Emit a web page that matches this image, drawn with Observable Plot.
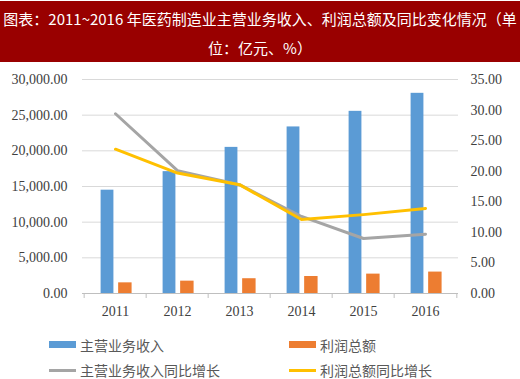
<!DOCTYPE html>
<html>
<head>
<meta charset="utf-8">
<script src="https://cdn.jsdelivr.net/npm/d3@7"></script>
<script src="https://cdn.jsdelivr.net/npm/@observablehq/plot@0.6"></script>
<style>
  html, body { margin: 0; padding: 0; background: #fff; }
  #wrap { position: relative; width: 520px; height: 379px; overflow: hidden; }
  #title { position: absolute; left: 0; top: 1px; width: 520px; height: 61px; background: #990000; color: #fff;
    font-family: "Noto Sans CJK SC", sans-serif; font-size: 15px; line-height: 29px; text-align: center; white-space: nowrap; padding-top: 3px; box-sizing: border-box; }
  #chart { position: absolute; left: 0; top: 62px; }
  #chart svg, #chart svg text { font-family: "Liberation Serif", "Times New Roman", serif; font-size: 14px; }
  .lg { position: absolute; font-family: "Noto Sans CJK SC", sans-serif; font-size: 14px; color: #595959; line-height: 18px; white-space: nowrap; }
  .sw { position: absolute; }
</style>
</head>
<body>
<div id="wrap">
  <div id="title">图表：2011~2016 年医药制造业主营业务收入、利润总额及同比变化情况（单<br>位：亿元、%）</div>
  <div id="chart"></div>
  <div class="sw" style="left:49px;top:341px;width:27px;height:7px;background:#5B9BD5"></div>
  <div class="lg" style="left:80px;top:336px">主营业务收入</div>
  <div class="sw" style="left:289px;top:341px;width:27px;height:7px;background:#ED7D31"></div>
  <div class="lg" style="left:320px;top:336px">利润总额</div>
  <div class="sw" style="left:49px;top:369px;width:27px;height:3px;background:#A5A5A5"></div>
  <div class="lg" style="left:80px;top:361px">主营业务收入同比增长</div>
  <div class="sw" style="left:289px;top:369px;width:27px;height:3px;background:#FFC000"></div>
  <div class="lg" style="left:320px;top:361px">利润总额同比增长</div>
</div>
<script>
const years = ["2011", "2012", "2013", "2014", "2015", "2016"];
const revenue = [14484, 17083, 20484, 23350, 25537, 28063];
const profit = [1494, 1731, 2072, 2382, 2717, 3003];
const revenueGrowth = [29.4, 20.1, 17.8, 12.6, 9.0, 9.7];
const profitGrowth = [23.6, 19.7, 17.8, 12.1, 12.9, 13.9];
const leftTicks = [0, 5000, 10000, 15000, 20000, 25000, 30000];
const rightTicks = [0, 5, 10, 15, 20, 25, 30, 35];

const leftMax = 30000, rightMax = 35;
const ratio = leftMax / rightMax;

const W = 520, H = 265, mL = 82, mR = 62, mT = 17, mB = 34;
const bw = (W - mL - mR) / years.length;

const table = years.map((y, i) => ({
  year: y, revenue: revenue[i], profit: profit[i],
  rg: revenueGrowth[i] * ratio, pg: profitGrowth[i] * ratio
}));

const chart = Plot.plot({
  width: W, height: H,
  marginLeft: mL, marginRight: mR, marginTop: mT, marginBottom: mB,
  style: "font-family: 'Liberation Serif', 'Times New Roman', serif; font-size: 14px; color: #404040; background: transparent;",
  x: { type: "band", domain: years, padding: 0, label: null },
  y: { domain: [0, leftMax], label: null },
  marks: [
    Plot.ruleY(leftTicks.filter(d => d > 0), { stroke: "#d9d9d9", strokeWidth: 1 }),
    Plot.barY(table, { x: "year", y: "revenue", fill: "#5B9BD5", insetLeft: bw * 0.265, insetRight: bw * 0.52 }),
    Plot.barY(table, { x: "year", y: "profit", fill: "#ED7D31", insetLeft: bw * 0.545, insetRight: bw * 0.23 }),
    Plot.ruleY([0], { stroke: "#bfbfbf", strokeWidth: 1 }),
    Plot.ruleX(years, { x: d => d, y1: 0, y2: 0, insetBottom: -5, dx: -bw / 2, stroke: "#bfbfbf" }),
    Plot.ruleX(years.slice(-1), { x: d => d, y1: 0, y2: 0, insetBottom: -5, dx: bw / 2, stroke: "#bfbfbf" }),
    Plot.line(table, { x: "year", y: "rg", stroke: "#A5A5A5", strokeWidth: 3, strokeLinejoin: "round", strokeLinecap: "round" }),
    Plot.line(table, { x: "year", y: "pg", stroke: "#FFC000", strokeWidth: 3, strokeLinejoin: "round", strokeLinecap: "round" }),
    Plot.axisY(leftTicks, { anchor: "left", tickSize: 0, tickPadding: 15, tickFormat: d3.format(",.2f"), label: null }),
    Plot.axisY(rightTicks.map(t => t * ratio), { anchor: "right", tickSize: 0, tickPadding: 12, tickFormat: d => d3.format(".2f")(d / ratio), label: null }),
    Plot.axisX({ tickSize: 0, tickPadding: 13, label: null })
  ]
});
document.getElementById("chart").appendChild(chart);
</script>
</body>
</html>
